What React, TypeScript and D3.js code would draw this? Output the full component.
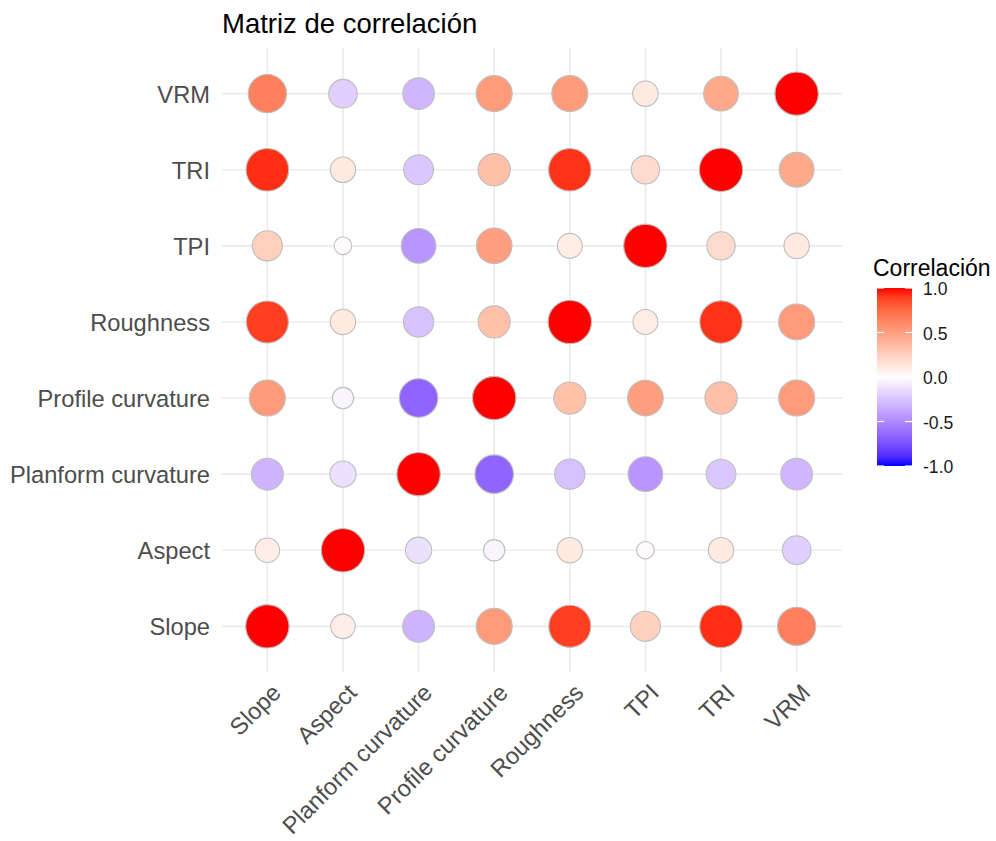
import React, { useEffect, useRef } from 'react';
import * as d3 from 'd3';

// variable order (x left->right, y bottom->top)
const variables = ["Slope", "Aspect", "Planform curvature", "Profile curvature", "Roughness", "TPI", "TRI", "VRM"];

// correlation rows, same order as variables
const corrSlope = [1, 0.09, -0.32, 0.52, 0.9, 0.25, 0.94, 0.65];
const corrAspect = [0.09, 1, -0.13, -0.04, 0.11, 0.02, 0.11, -0.2];
const corrPlanform = [-0.32, -0.13, 1, -0.66, -0.26, -0.45, -0.24, -0.31];
const corrProfile = [0.52, -0.04, -0.66, 1, 0.33, 0.5, 0.34, 0.52];
const corrRoughness = [0.9, 0.11, -0.26, 0.33, 1, 0.1, 0.93, 0.52];
const corrTPI = [0.25, 0.02, -0.45, 0.5, 0.1, 1, 0.19, 0.11];
const corrTRI = [0.94, 0.11, -0.24, 0.34, 0.93, 0.19, 1, 0.45];
const corrVRM = [0.65, -0.2, -0.31, 0.52, 0.52, 0.11, 0.45, 1];

const legendBreaks = [-1, -0.5, 0, 0.5, 1];

const FONT = "'Liberation Sans', Arial, sans-serif";

const App: React.FC = () => {
  const svgRef = useRef<SVGSVGElement>(null);

  useEffect(() => {
    if (!svgRef.current) return;
    const svg = d3.select(svgRef.current);
    svg.selectAll("*").remove();

    const rows = [corrSlope, corrAspect, corrPlanform, corrProfile, corrRoughness, corrTPI, corrTRI, corrVRM];
    const cells: { x: string; y: string; v: number }[] = [];
    rows.forEach((row, i) => {
      row.forEach((v, j) => cells.push({ y: variables[i], x: variables[j], v }));
    });

    const panel = { left: 222, right: 842, top: 48, bottom: 672 };

    const x = d3.scalePoint<string>().domain(variables).range([panel.left, panel.right]).padding(0.6);
    const y = d3.scalePoint<string>().domain(variables).range([panel.bottom, panel.top]).padding(0.6);

    const color = d3.scaleLinear<string>()
      .domain([-1, 0, 1])
      .range(["#0000FF", "#FFFFFF", "#FF0000"])
      .interpolate(d3.interpolateLab);

    // size mapped on area (like ggplot scale_size)
    const minAbs = d3.min(cells, d => Math.abs(d.v)) || 0;
    const radius = d3.scaleLinear().domain([0, 1]).range([8.8, 21.7]);
    const r = (v: number) => radius(Math.sqrt((Math.abs(v) - minAbs) / (1 - minAbs)));

    // Title
    svg.append("text")
      .attr("x", panel.left)
      .attr("y", 33)
      .attr("font-size", 27.5)
      .attr("fill", "#000")
      .text("Matriz de correlación");

    // Grid lines
    const grid = svg.append("g").attr("stroke", "#EBEBEB").attr("stroke-width", 1.6);
    grid.selectAll("line.v")
      .data(variables)
      .join("line")
      .attr("x1", d => x(d)!)
      .attr("x2", d => x(d)!)
      .attr("y1", panel.top)
      .attr("y2", panel.bottom);
    grid.selectAll("line.h")
      .data(variables)
      .join("line")
      .attr("class", "h")
      .attr("y1", d => y(d)!)
      .attr("y2", d => y(d)!)
      .attr("x1", panel.left)
      .attr("x2", panel.right);

    // Points
    svg.append("g")
      .selectAll("circle")
      .data(cells)
      .join("circle")
      .attr("cx", d => x(d.x)!)
      .attr("cy", d => y(d.y)!)
      .attr("r", d => r(d.v))
      .attr("fill", d => color(d.v))
      .attr("stroke", "#BEBEBE")
      .attr("stroke-width", 1.1);

    // Y axis labels
    svg.append("g")
      .selectAll("text")
      .data(variables)
      .join("text")
      .attr("x", panel.left - 12)
      .attr("y", d => y(d)!)
      .attr("dy", "0.38em")
      .attr("text-anchor", "end")
      .attr("font-size", 23.7)
      .attr("fill", "#4D4D4D")
      .text(d => d);

    // X axis labels, rotated 45
    svg.append("g")
      .selectAll("text")
      .data(variables)
      .join("text")
      .attr("transform", d => `translate(${x(d)! + 3},${panel.bottom + 10}) rotate(-45)`)
      .attr("dy", "0.72em")
      .attr("text-anchor", "end")
      .attr("font-size", 23.7)
      .attr("fill", "#4D4D4D")
      .text(d => d);

    // Legend
    const bar = { x: 877, y0: 288, y1: 466, w: 35 };
    const ly = d3.scaleLinear().domain([-1, 1]).range([bar.y1, bar.y0]);

    const defs = svg.append("defs");
    const grad = defs.append("linearGradient")
      .attr("id", "corr-grad")
      .attr("x1", 0).attr("x2", 0).attr("y1", 1).attr("y2", 0);
    grad.selectAll("stop")
      .data(d3.range(-1, 1.0001, 0.1))
      .join("stop")
      .attr("offset", d => (d + 1) / 2)
      .attr("stop-color", d => color(d));

    svg.append("text")
      .attr("x", 873)
      .attr("y", 276)
      .attr("font-size", 23)
      .attr("fill", "#000")
      .text("Correlación");

    svg.append("rect")
      .attr("x", bar.x)
      .attr("y", bar.y0)
      .attr("width", bar.w)
      .attr("height", bar.y1 - bar.y0)
      .attr("fill", "url(#corr-grad)");

    const ticks = svg.append("g").attr("stroke", "#FFFFFF").attr("stroke-width", 1.2);
    legendBreaks.forEach(b => {
      ticks.append("line")
        .attr("x1", bar.x).attr("x2", bar.x + bar.w / 5)
        .attr("y1", ly(b)).attr("y2", ly(b));
      ticks.append("line")
        .attr("x1", bar.x + bar.w * 4 / 5).attr("x2", bar.x + bar.w)
        .attr("y1", ly(b)).attr("y2", ly(b));
    });

    svg.append("g")
      .selectAll("text")
      .data(legendBreaks)
      .join("text")
      .attr("x", bar.x + bar.w + 11)
      .attr("y", d => ly(d))
      .attr("dy", "0.42em")
      .attr("font-size", 17.6)
      .attr("fill", "#1A1A1A")
      .text(d => d3.format(".1f")(d).replace("\u2212", "-"));
  }, []);

  return (
    <div style={{ position: "absolute", left: 0, top: 0, background: "#fff" }}>
      <svg ref={svgRef} width={996} height={841} style={{ display: "block", fontFamily: FONT }} />
    </div>
  );
};

export default App;
